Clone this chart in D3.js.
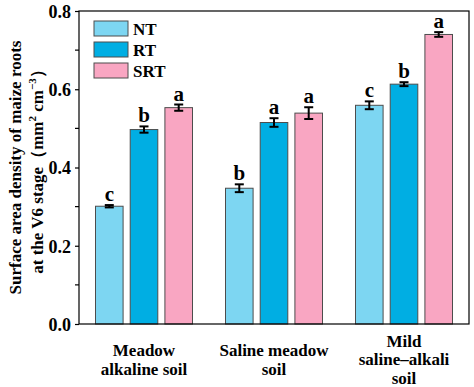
<!DOCTYPE html>
<html>
<head>
<meta charset="utf-8">
<script src="https://cdn.jsdelivr.net/npm/d3@7"></script>
<style>
  body { margin: 0; background: #fff; }
  text { font-family: "Liberation Serif", "Times New Roman", serif; font-weight: bold; fill: #000; }
</style>
</head>
<body>
<div id="chart"></div>
<script>
// data
const soils = ['Meadow alkaline soil', 'Saline meadow soil', 'Mild saline–alkali soil'];
const soilLines = [['Meadow', 'alkaline soil'], ['Saline meadow', 'soil'], ['Mild', 'saline–alkali', 'soil']];
const treatments = ['NT', 'RT', 'SRT'];
const means = [
  [0.301, 0.497, 0.553],
  [0.347, 0.515, 0.539],
  [0.559, 0.613, 0.740]
];
const errors = [
  [0.003, 0.008, 0.008],
  [0.010, 0.011, 0.015],
  [0.010, 0.005, 0.006]
];
const letters = [
  ['c', 'b', 'a'],
  ['b', 'a', 'a'],
  ['c', 'b', 'a']
];
const yTicks = [0, 0.2, 0.4, 0.6, 0.8];
const colors = ['#7dd6f2', '#00aee3', '#f9a6c2'];

const w = 474, h = 387;
const margins = { left: 79, right: 5, top: 11, bottom: 63 };
const width = w - margins.left - margins.right;
const height = h - margins.top - margins.bottom;

const svg = d3.select('#chart').append('svg')
  .attr('width', w)
  .attr('height', h);

const x0 = d3.scaleBand().domain(soils).range([0, width]).padding(0);
const x1 = d3.scaleBand().domain(treatments).range([-48.5, 48.5]).paddingInner(0.205).paddingOuter(0);
const y = d3.scaleLinear().domain([0, 0.8]).range([height, 0]);

const vis = svg.append('g')
  .attr('transform', `translate(${margins.left}, ${margins.top})`);

// bars
const groups = vis.selectAll('.group')
  .data(soils)
  .enter()
  .append('g')
  .attr('transform', d => `translate(${x0(d) + x0.bandwidth() / 2}, 0)`);

groups.each(function (soil, gi) {
  const g = d3.select(this);
  treatments.forEach((t, ti) => {
    const v = means[gi][ti];
    const e = errors[gi][ti];
    const bx = x1(t);
    const cx = bx + x1.bandwidth() / 2;
    g.append('rect')
      .attr('x', bx)
      .attr('y', y(v))
      .attr('width', x1.bandwidth())
      .attr('height', height - y(v))
      .style('fill', colors[ti])
      .style('stroke', '#4d4d4d')
      .style('stroke-width', 1);
    // error bar
    const eb = g.append('g').style('stroke', '#000').style('stroke-width', 2);
    eb.append('line')
      .attr('x1', cx).attr('x2', cx)
      .attr('y1', y(v - e)).attr('y2', y(v + e));
    [v - e, v + e].forEach(val => {
      eb.append('line')
        .attr('x1', cx - 4.5).attr('x2', cx + 4.5)
        .attr('y1', y(val)).attr('y2', y(val));
    });
    g.append('text')
      .attr('x', cx)
      .attr('y', y(v + e) - 4)
      .style('text-anchor', 'middle')
      .style('font-size', '21px')
      .text(letters[gi][ti]);
  });
});

// frame
vis.append('rect')
  .attr('x', 0).attr('y', 0)
  .attr('width', width).attr('height', height)
  .style('fill', 'none')
  .style('stroke', '#000')
  .style('stroke-width', 1.2);

// y axis
const yAxis = d3.axisLeft(y)
  .tickValues(yTicks)
  .tickFormat(d3.format('.1f'))
  .tickSize(4)
  .tickPadding(4);
const yAxisG = vis.append('g').attr('class', 'y axis').call(yAxis);
yAxisG.select('.domain').remove();
yAxisG.selectAll('line').style('stroke', '#000').style('stroke-width', 1.2);
yAxisG.selectAll('text')
  .style('font-size', '18px')
  .style('font-family', '"Liberation Serif", serif')
  .style('font-weight', 'bold')
  .attr('dy', '0.35em');
// minor ticks
vis.append('g')
  .selectAll('line')
  .data([0.1, 0.3, 0.5, 0.7])
  .enter()
  .append('line')
  .attr('x1', -4).attr('x2', 0)
  .attr('y1', d => y(d)).attr('y2', d => y(d))
  .style('stroke', '#000')
  .style('stroke-width', 1.2);

// x labels
soils.forEach((s, i) => {
  const lines = soilLines[i];
  const lh = 18.5;
  const start = height + 28 + (2 - lines.length) * lh / 2 + 4;
  const t = vis.append('text')
    .attr('x', x0(s) + x0.bandwidth() / 2)
    .attr('y', start)
    .style('text-anchor', 'middle')
    .style('font-size', '17px');
  lines.forEach((ln, li) => {
    t.append('tspan')
      .attr('x', x0(s) + x0.bandwidth() / 2)
      .attr('y', start + li * lh)
      .text(ln);
  });
});

// y label
const yLabel = svg.append('g')
  .attr('transform', `translate(0, ${margins.top + height / 2}) rotate(-90)`);
yLabel.append('text')
  .attr('x', 0).attr('y', 21)
  .style('text-anchor', 'middle')
  .style('font-size', '17px')
  .text('Surface area density of maize roots');
const l2 = yLabel.append('text')
  .attr('x', 0).attr('y', 43)
  .style('text-anchor', 'middle')
  .style('font-size', '17px');
l2.append('tspan').text('at the V6 stage（mm');
l2.append('tspan').attr('dy', -7).style('font-size', '11px').text('2');
l2.append('tspan').attr('dy', 7).text(' cm');
l2.append('tspan').attr('dy', -7).style('font-size', '11px').text('−3');
l2.append('tspan').attr('dy', 7).text('）');

// legend
const legend = svg.append('g')
  .attr('transform', `translate(94, 21)`);
treatments.forEach((t, i) => {
  legend.append('rect')
    .attr('x', 0).attr('y', i * 21)
    .attr('width', 34).attr('height', 15)
    .style('fill', colors[i])
    .style('stroke', '#4d4d4d')
    .style('stroke-width', 1);
  legend.append('text')
    .attr('x', 39).attr('y', i * 21 + 13.5)
    .style('font-size', '17px')
    .text(t);
});
</script>
</body>
</html>
